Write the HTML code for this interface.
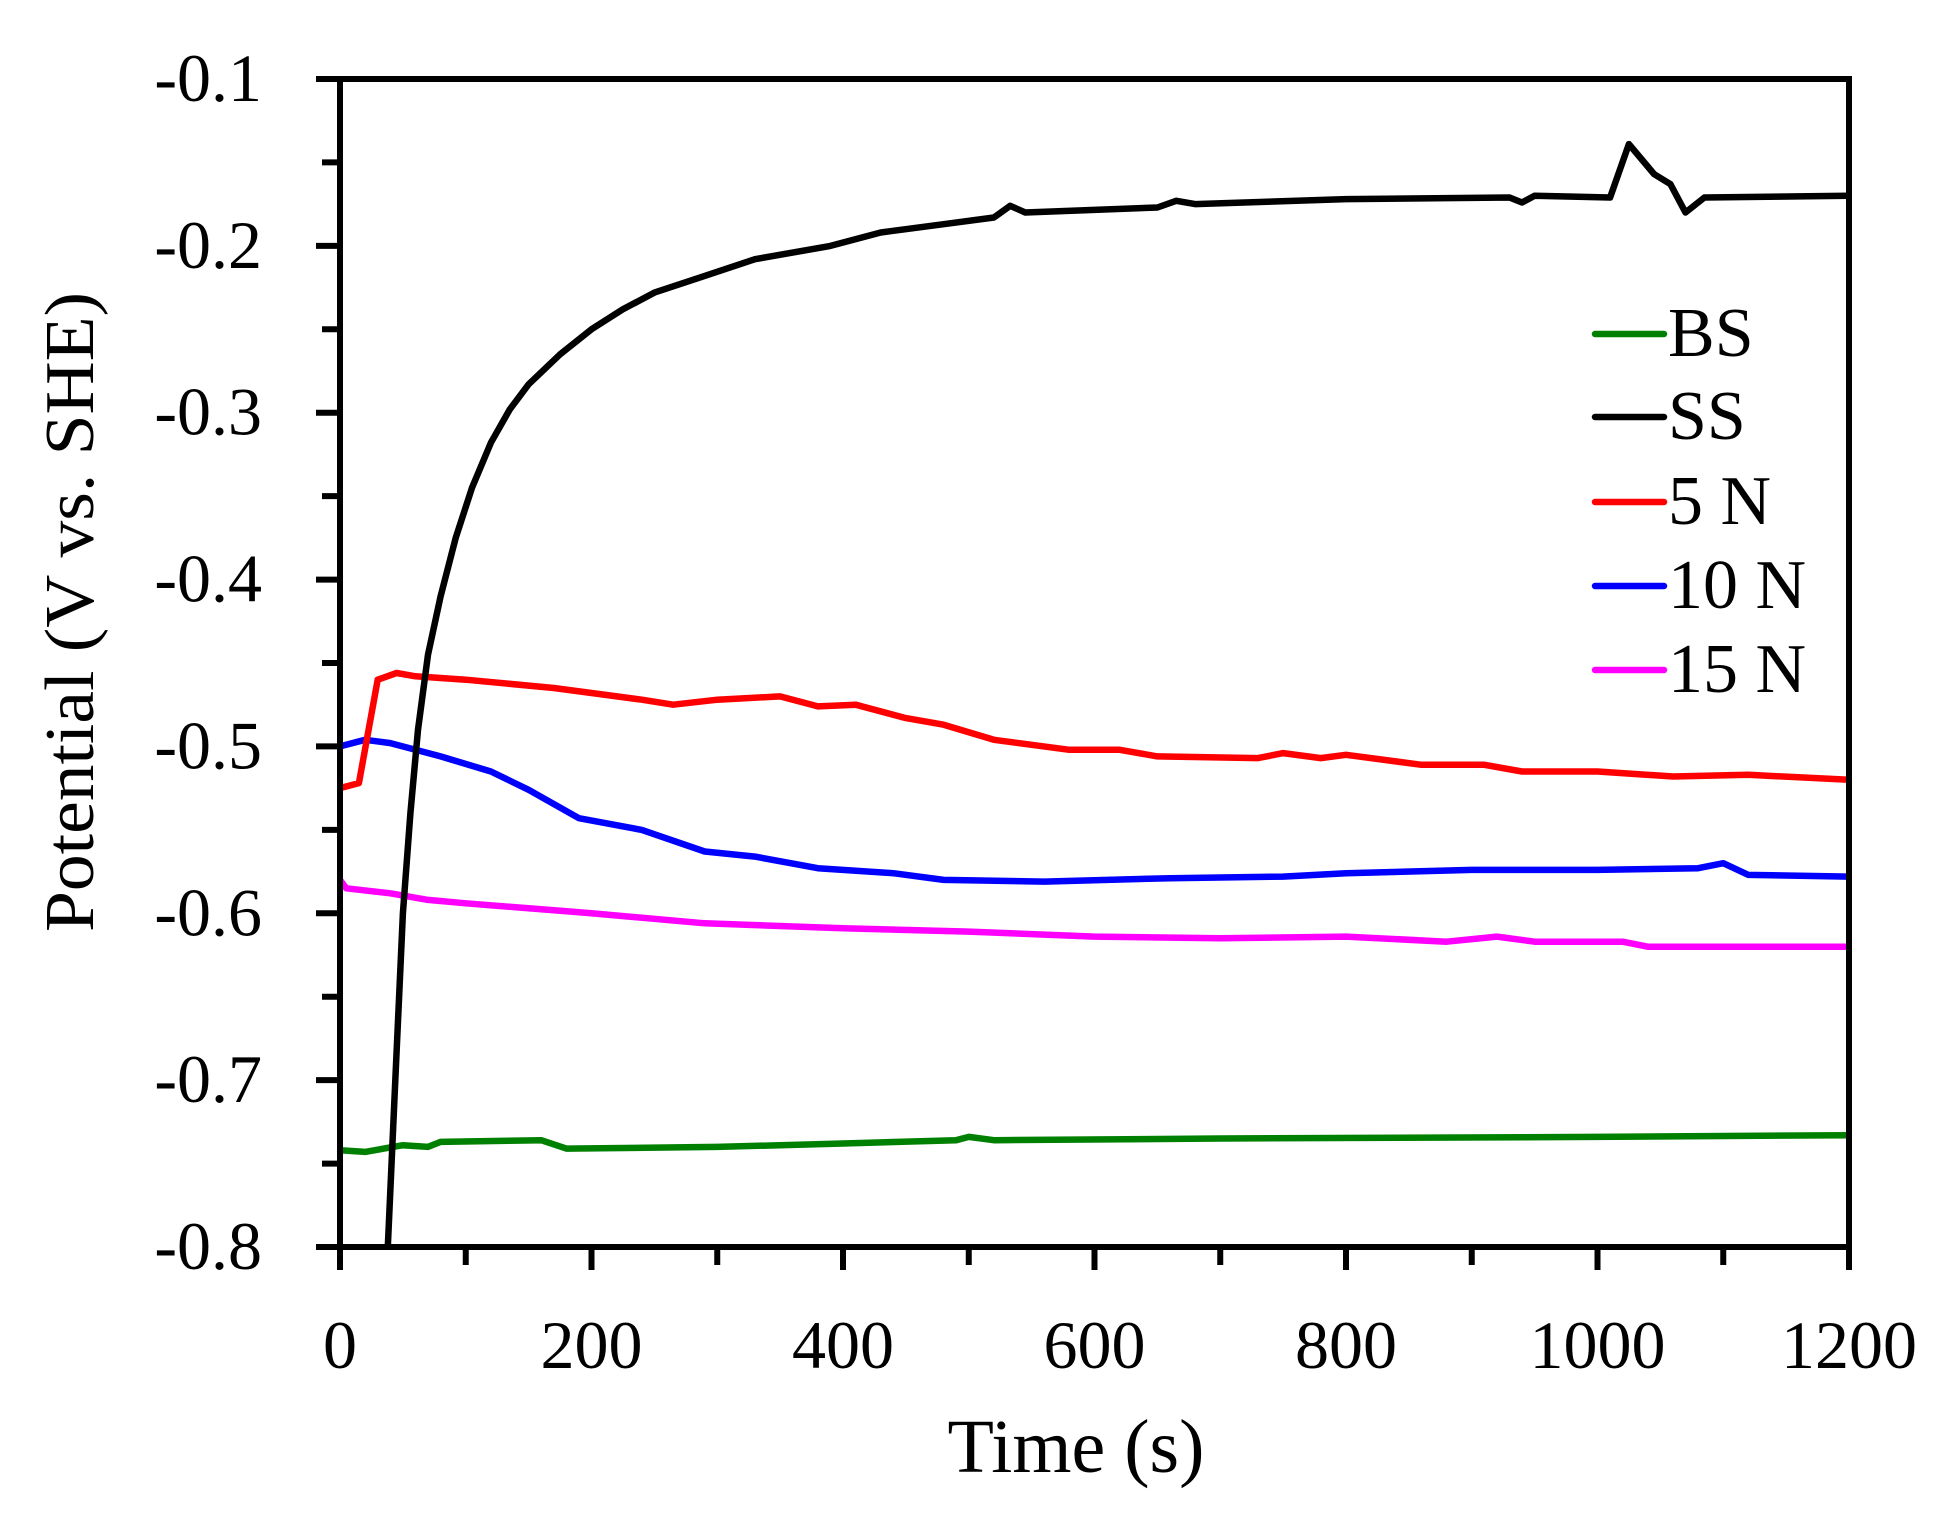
<!DOCTYPE html>
<html><head><meta charset="utf-8"><style>
html,body{margin:0;padding:0;background:#fff;}
svg{display:block;}
text{font-family:"Liberation Serif",serif;fill:#000;}
</style></head><body>
<svg width="1938" height="1514" viewBox="0 0 1938 1514" xmlns="http://www.w3.org/2000/svg">
<defs><clipPath id="c"><rect x="340" y="79" width="1509" height="1168"/></clipPath></defs>
<g id="ticks" stroke="#000" stroke-width="6"></g>
<g clip-path="url(#c)" fill="none" stroke-width="6.5" stroke-linejoin="round" stroke-linecap="round" id="series"></g>
<rect x="340" y="79" width="1509" height="1168" fill="none" stroke="#000" stroke-width="6"/>
<g font-size="68" text-anchor="middle" id="xlab"></g>
<g font-size="68" text-anchor="end" id="ylab"></g>
<text x="1076" y="1472" font-size="76" text-anchor="middle">Time (s)</text>
<text transform="translate(93,612) rotate(-90)" font-size="70" text-anchor="middle" textLength="640" lengthAdjust="spacingAndGlyphs">Potential (V vs. SHE)</text>
<g font-size="70">
<line x1="1595" y1="334" x2="1664" y2="334" stroke="#008000" stroke-width="6.5" stroke-linecap="round"/><text x="1668" y="356">BS</text>
<line x1="1595" y1="417" x2="1664" y2="417" stroke="#000" stroke-width="6.5" stroke-linecap="round"/><text x="1668" y="439">SS</text>
<line x1="1595" y1="502" x2="1664" y2="502" stroke="#ff0000" stroke-width="6.5" stroke-linecap="round"/><text x="1668" y="524">5 N</text>
<line x1="1595" y1="586" x2="1664" y2="586" stroke="#0000ff" stroke-width="6.5" stroke-linecap="round"/><text x="1668" y="608">10 N</text>
<line x1="1595" y1="670" x2="1664" y2="670" stroke="#ff00ff" stroke-width="6.5" stroke-linecap="round"/><text x="1668" y="692">15 N</text>
</g>
<script>
const X=t=>340+t*1509/1200, Y=v=>79+(-0.1-v)*1168/0.7;
const NS="http://www.w3.org/2000/svg";
let tk=document.getElementById('ticks'),yl=document.getElementById('ylab'),xl=document.getElementById('xlab');
function ln(x1,y1,x2,y2){let l=document.createElementNS(NS,'line');l.setAttribute('x1',x1);l.setAttribute('y1',y1);l.setAttribute('x2',x2);l.setAttribute('y2',y2);tk.appendChild(l);}
function tx(g,x,y,s){let t=document.createElementNS(NS,'text');t.setAttribute('x',x);t.setAttribute('y',y);t.textContent=s;g.appendChild(t);}
for(let i=0;i<=14;i++){let v=-0.1-i*0.05,y=Y(v);ln(i%2?322:316,y,340,y);if(i%2==0)tx(yl,262,y+22,v.toFixed(1));}
for(let i=0;i<=12;i++){let t=i*100,x=X(t);ln(x,1247,x,i%2?1265:1270);if(i%2==0)tx(xl,x,1368,String(t));}
const S={
"#000":[[38,-0.8],[44,-0.7],[50,-0.6],[56,-0.54],[62,-0.49],[70,-0.445],[80,-0.41],[92,-0.375],[105,-0.345],[120,-0.318],[135,-0.298],[150,-0.283],[175,-0.265],[200,-0.25],[225,-0.238],[250,-0.228],[290,-0.218],[330,-0.208],[390,-0.2],[430,-0.192],[480,-0.187],[520,-0.183],[533,-0.176],[545,-0.18],[650,-0.177],[665,-0.173],[680,-0.175],[800,-0.172],[930,-0.171],[940,-0.174],[950,-0.17],[1010,-0.171],[1025,-0.139],[1045,-0.157],[1058,-0.163],[1070,-0.18],[1085,-0.171],[1200,-0.17]],
"#ff0000":[[0,-0.525],[15,-0.522],[30,-0.46],[45,-0.456],[60,-0.458],[100,-0.46],[170,-0.465],[200,-0.468],[240,-0.472],[265,-0.475],[300,-0.472],[350,-0.47],[380,-0.476],[410,-0.475],[450,-0.483],[480,-0.487],[520,-0.496],[580,-0.502],[620,-0.502],[650,-0.506],[730,-0.507],[750,-0.504],[780,-0.507],[800,-0.505],[860,-0.511],[910,-0.511],[940,-0.515],[1000,-0.515],[1060,-0.518],[1120,-0.517],[1200,-0.52]],
"#0000ff":[[0,-0.5],[20,-0.496],[40,-0.498],[80,-0.506],[120,-0.515],[150,-0.526],[190,-0.543],[240,-0.55],[290,-0.563],[330,-0.566],[380,-0.573],[440,-0.576],[480,-0.58],[560,-0.581],[660,-0.579],[750,-0.578],[800,-0.576],[900,-0.574],[1000,-0.574],[1080,-0.573],[1100,-0.57],[1120,-0.577],[1200,-0.578]],
"#ff00ff":[[0,-0.58],[5,-0.585],[40,-0.588],[70,-0.592],[100,-0.594],[150,-0.597],[200,-0.6],[290,-0.606],[400,-0.609],[500,-0.611],[600,-0.614],[700,-0.615],[800,-0.614],[880,-0.617],[920,-0.614],[950,-0.617],[1020,-0.617],[1040,-0.62],[1200,-0.62]],
"#008000":[[0,-0.742],[20,-0.743],[50,-0.739],[70,-0.74],[80,-0.737],[160,-0.736],[180,-0.741],[300,-0.74],[400,-0.738],[490,-0.736],[500,-0.734],[520,-0.736],[700,-0.735],[1000,-0.734],[1200,-0.733]]};
let g=document.getElementById('series');
for(const c of ["#008000","#ff00ff","#0000ff","#ff0000","#000"]){let p=document.createElementNS(NS,'polyline');p.setAttribute('stroke',c);p.setAttribute('points',S[c].map(d=>X(d[0]).toFixed(1)+','+Y(d[1]).toFixed(1)).join(' '));g.appendChild(p);}
</script>
</svg>
</body></html>
